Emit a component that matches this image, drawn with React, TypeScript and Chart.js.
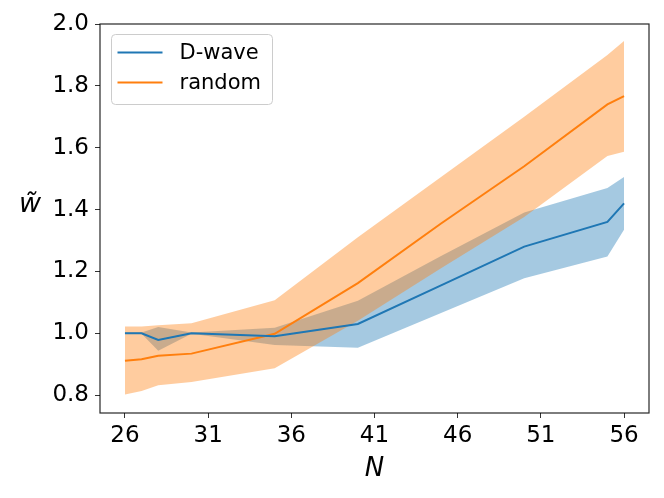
import React, { useEffect, useRef } from 'react';
import { Chart, registerables } from 'chart.js';

Chart.register(...registerables);

// system sizes N and the two runs (mean with a shaded band)
const nValues = [26, 27, 28, 30, 35, 40, 45, 50, 55, 56];

const dwaveMean = [1.0, 1.0, 0.978, 1.0, 0.99, 1.03, 1.155, 1.28, 1.36, 1.42];
const dwaveUpper = [1.002, 1.002, 1.02, 1.002, 1.018, 1.105, 1.25, 1.39, 1.47, 1.505];
const dwaveLower = [0.998, 0.998, 0.943, 0.998, 0.962, 0.953, 1.065, 1.178, 1.248, 1.335];

const randomMean = [0.911, 0.916, 0.927, 0.934, 0.998, 1.162, 1.355, 1.54, 1.74, 1.767];
const randomUpper = [1.022, 1.022, 1.026, 1.032, 1.107, 1.31, 1.505, 1.7, 1.9, 1.945];
const randomLower = [0.802, 0.813, 0.832, 0.842, 0.887, 1.04, 1.21, 1.376, 1.573, 1.587];

const xTicks = [26, 31, 36, 41, 46, 51, 56];
const yTicks = [0.8, 1.0, 1.2, 1.4, 1.6, 1.8, 2.0];

const BLUE = '#1f77b4';
const ORANGE = '#ff7f0e';
const FONT = "'DejaVu Sans', sans-serif";

const pts = (ys: number[]) => nValues.map((x, i) => ({ x, y: ys[i] }));

// spines, legend box and axis labels, drawn the matplotlib way
const decorPlugin = {
    id: 'decor',
    afterDraw(chart: any) {
        const { ctx, chartArea: a } = chart;
        ctx.save();

        // frame
        ctx.strokeStyle = 'rgba(0,0,0,0.85)';
        ctx.lineWidth = 1.2;
        ctx.strokeRect(a.left, a.top, a.right - a.left, a.bottom - a.top);

        // legend
        const lx = a.left + 11.5;
        const ly = a.top + 10.5;
        const lw = 161;
        const lh = 70;
        ctx.beginPath();
        ctx.roundRect(lx, ly, lw, lh, 4);
        ctx.fillStyle = 'rgba(255,255,255,0.8)';
        ctx.fill();
        ctx.strokeStyle = '#cccccc';
        ctx.lineWidth = 1;
        ctx.stroke();

        ctx.font = `21px ${FONT}`;
        ctx.textBaseline = 'middle';
        ctx.textAlign = 'left';
        [0, 1].forEach((idx, i) => {
            const ds = chart.data.datasets[idx];
            const y = ly + 18 + i * 30;
            ctx.beginPath();
            ctx.moveTo(lx + 6, y);
            ctx.lineTo(lx + 51, y);
            ctx.strokeStyle = ds.borderColor;
            ctx.lineWidth = 2;
            ctx.stroke();
            ctx.fillStyle = '#000';
            ctx.fillText(ds.label, lx + 68, y + 1);
        });

        // axis labels
        ctx.fillStyle = '#000';
        ctx.textAlign = 'center';
        ctx.font = `italic 26px ${FONT}`;
        ctx.fillText('N', (a.left + a.right) / 2, 469);
        ctx.font = `italic 27px ${FONT}`;
        ctx.fillText('w\u0303', 30, 205);

        ctx.restore();
    },
};

const App: React.FC = () => {
    const chartRef = useRef<HTMLCanvasElement>(null);
    const chartInstance = useRef<Chart | null>(null);

    useEffect(() => {
        if (!chartRef.current) return;
        const ctx = chartRef.current.getContext('2d');
        if (!ctx) return;

        if (chartInstance.current) {
            chartInstance.current.destroy();
        }

        const hidden = 'rgba(0,0,0,0)';

        chartInstance.current = new Chart(ctx, {
            type: 'line',
            data: {
                datasets: [
                    {
                        label: 'D-wave',
                        data: pts(dwaveMean),
                        borderColor: BLUE,
                        borderWidth: 2,
                        pointRadius: 0,
                        fill: false,
                    },
                    {
                        label: 'random',
                        data: pts(randomMean),
                        borderColor: ORANGE,
                        borderWidth: 2,
                        pointRadius: 0,
                        fill: false,
                    },
                    {
                        label: 'random lower',
                        data: pts(randomLower),
                        borderColor: hidden,
                        borderWidth: 1,
                        pointRadius: 0,
                        fill: false,
                    },
                    {
                        label: 'random upper',
                        data: pts(randomUpper),
                        borderColor: hidden,
                        borderWidth: 1,
                        pointRadius: 0,
                        fill: '-1',
                        backgroundColor: 'rgba(255,127,14,0.4)',
                    },
                    {
                        label: 'D-wave lower',
                        data: pts(dwaveLower),
                        borderColor: hidden,
                        borderWidth: 1,
                        pointRadius: 0,
                        fill: false,
                    },
                    {
                        label: 'D-wave upper',
                        data: pts(dwaveUpper),
                        borderColor: hidden,
                        borderWidth: 1,
                        pointRadius: 0,
                        fill: '-1',
                        backgroundColor: 'rgba(31,119,180,0.4)',
                    },
                ],
            },
            options: {
                animation: false,
                responsive: true,
                maintainAspectRatio: false,
                layout: { padding: { top: 24, right: 15, left: 0, bottom: 0 } },
                plugins: {
                    legend: { display: false },
                    tooltip: { enabled: false },
                    filler: { drawTime: 'beforeDatasetsDraw' },
                },
                scales: {
                    x: {
                        type: 'linear',
                        min: 24.5,
                        max: 57.5,
                        afterBuildTicks: (scale: any) => {
                            scale.ticks = xTicks.map((v) => ({ value: v }));
                        },
                        afterFit: (scale: any) => {
                            scale.height = 85;
                        },
                        grid: {
                            drawOnChartArea: false,
                            drawTicks: true,
                            tickLength: 5,
                            tickColor: '#333',
                        },
                        border: { display: false },
                        ticks: {
                            autoSkip: false,
                            maxRotation: 0,
                            padding: 4,
                            color: '#000',
                            font: { family: FONT, size: 23 },
                            callback: (v: any) => String(v),
                        },
                    },
                    y: {
                        type: 'linear',
                        min: 0.742,
                        max: 2.0,
                        afterBuildTicks: (scale: any) => {
                            scale.ticks = yTicks.map((v) => ({ value: v }));
                        },
                        afterFit: (scale: any) => {
                            scale.width = 100;
                        },
                        grid: {
                            drawOnChartArea: false,
                            drawTicks: true,
                            tickLength: 5,
                            tickColor: '#333',
                        },
                        border: { display: false },
                        ticks: {
                            autoSkip: false,
                            padding: 6,
                            color: '#000',
                            font: { family: FONT, size: 23 },
                            callback: (v: any) => Number(v).toFixed(1),
                        },
                    },
                },
            },
            plugins: [decorPlugin],
        });

        return () => {
            if (chartInstance.current) {
                chartInstance.current.destroy();
                chartInstance.current = null;
            }
        };
    }, []);

    return (
        <div style={{ position: 'fixed', left: 0, top: 0, width: 664, height: 498, background: '#fff' }}>
            <canvas ref={chartRef}></canvas>
        </div>
    );
};

export default App;
